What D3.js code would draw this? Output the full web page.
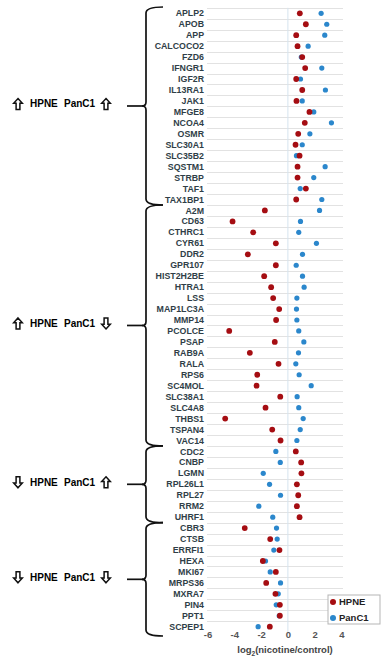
<!DOCTYPE html>
<html>
<head>
<meta charset="utf-8">
<script src="https://cdn.jsdelivr.net/npm/d3@7"></script>
<style>
  body { margin: 0; background: #fff; }
  svg { display: block; font-family: "Liberation Sans", Arial, sans-serif; }
</style>
</head>
<body>
<div id="chart"></div>
<script>
// gene order top -> bottom
var genes = ["APLP2","APOB","APP","CALCOCO2","FZD6","IFNGR1","IGF2R","IL13RA1","JAK1","MFGE8",
  "NCOA4","OSMR","SLC30A1","SLC35B2","SQSTM1","STRBP","TAF1","TAX1BP1",
  "A2M","CD63","CTHRC1","CYR61","DDR2","GPR107","HIST2H2BE","HTRA1","LSS","MAP1LC3A","MMP14",
  "PCOLCE","PSAP","RAB9A","RALA","RPS6","SC4MOL","SLC38A1","SLC4A8","THBS1","TSPAN4","VAC14",
  "CDC2","CNBP","LGMN","RPL26L1","RPL27","RRM2","UHRF1",
  "CBR3","CTSB","ERRFI1","HEXA","MKI67","MRPS36","MXRA7","PIN4","PPT1","SCPEP1"];

var hpne = [0.89,1.34,0.62,0.72,1.07,1.29,0.62,1.07,0.64,1.61,
  1.26,0.77,0.57,0.87,0.72,0.72,1.34,0.62,
  -1.72,-4.13,-2.59,-0.9,-2.99,-0.9,-1.77,-1.25,-1.1,-0.65,-0.88,
  -4.38,-0.98,-2.84,-0.7,-2.29,-2.34,-0.57,-1.67,-4.68,-1.17,-0.55,
  0.59,0.99,1.01,0.67,0.77,0.67,0.87,
  -3.22,-1.32,-0.63,-1.87,-0.9,-1.62,-0.93,-0.6,-0.6,-1.35];

var panc1 = [2.48,2.9,2.75,1.51,1.0,2.53,0.94,2.8,1.07,1.93,
  3.25,1.64,1.07,0.64,2.78,1.93,0.92,2.53,
  2.36,0.94,0.81,2.13,1.09,0.62,1.09,1.21,0.67,0.64,0.67,
  0.81,1.19,0.79,0.59,0.84,1.74,0.69,0.81,1.14,0.92,0.67,
  -0.9,-0.57,-1.84,-1.37,-0.55,-2.17,-1.13,
  -0.85,-0.8,-1.05,-1.67,-1.32,-0.55,-0.72,-0.87,-0.65,-2.22];

// groups: [first gene, last gene, HPNE direction, PanC1 direction]
var groups = [
  ["APLP2","TAX1BP1","up","up"],
  ["A2M","VAC14","up","down"],
  ["CDC2","UHRF1","down","up"],
  ["CBR3","SCPEP1","down","down"]
];

var xTicks = [-6,-4,-2,0,2,4];
var seriesNames = ["HPNE","PanC1"];
var seriesColors = ["#a50d12","#2b87cc"];

var width = 384, height = 661;

var svg = d3.select("#chart").append("svg")
  .attr("width", width).attr("height", height);

var x = d3.scaleLinear().domain([-6, 4]).range([207.5, 341.5]);
var y = d3.scalePoint().domain(genes).range([13.3, 626.7]);
var step = y.step();

// row grid lines
svg.append("g").selectAll("line.row")
  .data(genes)
  .enter().append("line")
  .attr("class", "row")
  .attr("x1", 207).attr("x2", 343)
  .attr("y1", function(d) { return Math.round(y(d) - step / 2) + 0.5; })
  .attr("y2", function(d) { return Math.round(y(d) - step / 2) + 0.5; })
  .attr("stroke", "#e2e2e2").attr("stroke-width", 1);

// zero line
svg.append("line")
  .attr("x1", x(0)).attr("x2", x(0))
  .attr("y1", y(genes[0]) - step / 2).attr("y2", y(genes[genes.length - 1]) + step / 2)
  .attr("stroke", "#d5e3ee").attr("stroke-width", 1);

// gene labels
svg.append("g").selectAll("text.gene")
  .data(genes)
  .enter().append("text")
  .attr("class", "gene")
  .attr("x", 204)
  .attr("y", function(d) { return y(d); })
  .attr("dy", "0.35em")
  .attr("text-anchor", "end")
  .attr("font-size", "8.8px")
  .attr("font-weight", "bold")
  .attr("fill", "#2f3e47")
  .text(function(d) { return d; });

// dots: PanC1 first, HPNE on top
var dotData = [
  { name: "PanC1", vals: panc1, color: seriesColors[1], r: 2.6 },
  { name: "HPNE", vals: hpne, color: seriesColors[0], r: 2.9 }
];
dotData.forEach(function(s) {
  svg.append("g").selectAll("circle")
    .data(genes)
    .enter().append("circle")
    .attr("cx", function(d, i) { return x(s.vals[i]); })
    .attr("cy", function(d) { return y(d); })
    .attr("r", s.r)
    .attr("fill", s.color);
});

// x axis
var axis = svg.append("g")
  .attr("transform", "translate(0," + 631 + ")")
  .call(d3.axisBottom(x).tickValues(xTicks).tickSize(0).tickPadding(0)
    .tickFormat(function(d) { return String(d); }));
axis.select(".domain").remove();
axis.selectAll("text")
  .attr("font-size", "9.5px")
  .attr("font-weight", "bold")
  .attr("font-family", "Liberation Sans, Arial, sans-serif")
  .attr("fill", "#555");

var title = svg.append("text")
  .attr("x", 285).attr("y", 653)
  .attr("text-anchor", "middle")
  .attr("font-size", "9.5px")
  .attr("font-weight", "bold")
  .attr("fill", "#444");
title.append("tspan").text("log");
title.append("tspan").attr("font-size", "6.5px").attr("dy", 2.5).text("2");
title.append("tspan").attr("dy", -2.5).text("(nicotine/control)");

// outlined block arrow, centred on (cx, cy)
function arrowPath(cx, cy, dir) {
  var s = dir === "up" ? 1 : -1;
  var pts = [[0, -5.5], [4.3, -0.8], [1.9, -0.8], [1.9, 5.5], [-1.9, 5.5], [-1.9, -0.8], [-4.3, -0.8]];
  return "M" + pts.map(function(p) { return [cx + p[0], cy + s * p[1]].join(","); }).join("L") + "Z";
}

// braces + group labels
var braceX = 146;
groups.forEach(function(g, gi) {
  var top = y(g[0]) - step / 2, bot = y(g[1]) + step / 2;
  if (gi === 0) top = 7;
  if (gi === groups.length - 1) bot = 636;
  var mid = (top + bot) / 2;
  var p = d3.path();
  p.moveTo(163, top);
  p.quadraticCurveTo(braceX, top, braceX, top + 6);
  p.lineTo(braceX, mid - 4);
  p.quadraticCurveTo(braceX, mid, braceX - 4, mid);
  p.quadraticCurveTo(braceX, mid, braceX, mid + 4);
  p.lineTo(braceX, bot - 6);
  p.quadraticCurveTo(braceX, bot, 163, bot);
  svg.append("path")
    .attr("d", p.toString())
    .attr("fill", "none")
    .attr("stroke", "#111")
    .attr("stroke-width", 1.7);
  svg.append("line")
    .attr("x1", 127).attr("x2", braceX - 3)
    .attr("y1", mid).attr("y2", mid)
    .attr("stroke", "#111").attr("stroke-width", 1.7);

  var lab = svg.append("g").attr("transform", "translate(0," + mid + ")");
  lab.append("path").attr("d", arrowPath(18, -2, g[2]))
    .attr("fill", "#fff").attr("stroke", "#111").attr("stroke-width", 1.5)
    .attr("stroke-linejoin", "miter");
  lab.append("text").attr("x", 30).attr("y", 1.5)
    .attr("font-size", "10px").attr("font-weight", "bold")
    .text("HPNE");
  lab.append("text").attr("x", 64).attr("y", 1.5)
    .attr("font-size", "10px").attr("font-weight", "bold")
    .text("PanC1");
  lab.append("path").attr("d", arrowPath(106, -2, g[3]))
    .attr("fill", "#fff").attr("stroke", "#111").attr("stroke-width", 1.5)
    .attr("stroke-linejoin", "miter");
});

// legend
var legend = svg.append("g").attr("transform", "translate(328,595)");
legend.append("rect")
  .attr("width", 52).attr("height", 29)
  .attr("fill", "#fff").attr("stroke", "#b5b5b5");
legend.selectAll("circle")
  .data(seriesNames)
  .enter().append("circle")
  .attr("cx", 5).attr("cy", function(d, i) { return 7 + i * 16; })
  .attr("r", 3)
  .attr("fill", function(d, i) { return seriesColors[i]; });
legend.selectAll("text")
  .data(seriesNames)
  .enter().append("text")
  .attr("x", 11).attr("y", function(d, i) { return 7 + i * 16; })
  .attr("dy", "0.35em")
  .attr("font-size", "9.5px").attr("font-weight", "bold")
  .attr("fill", "#222")
  .text(function(d) { return d; });
</script>
</body>
</html>
